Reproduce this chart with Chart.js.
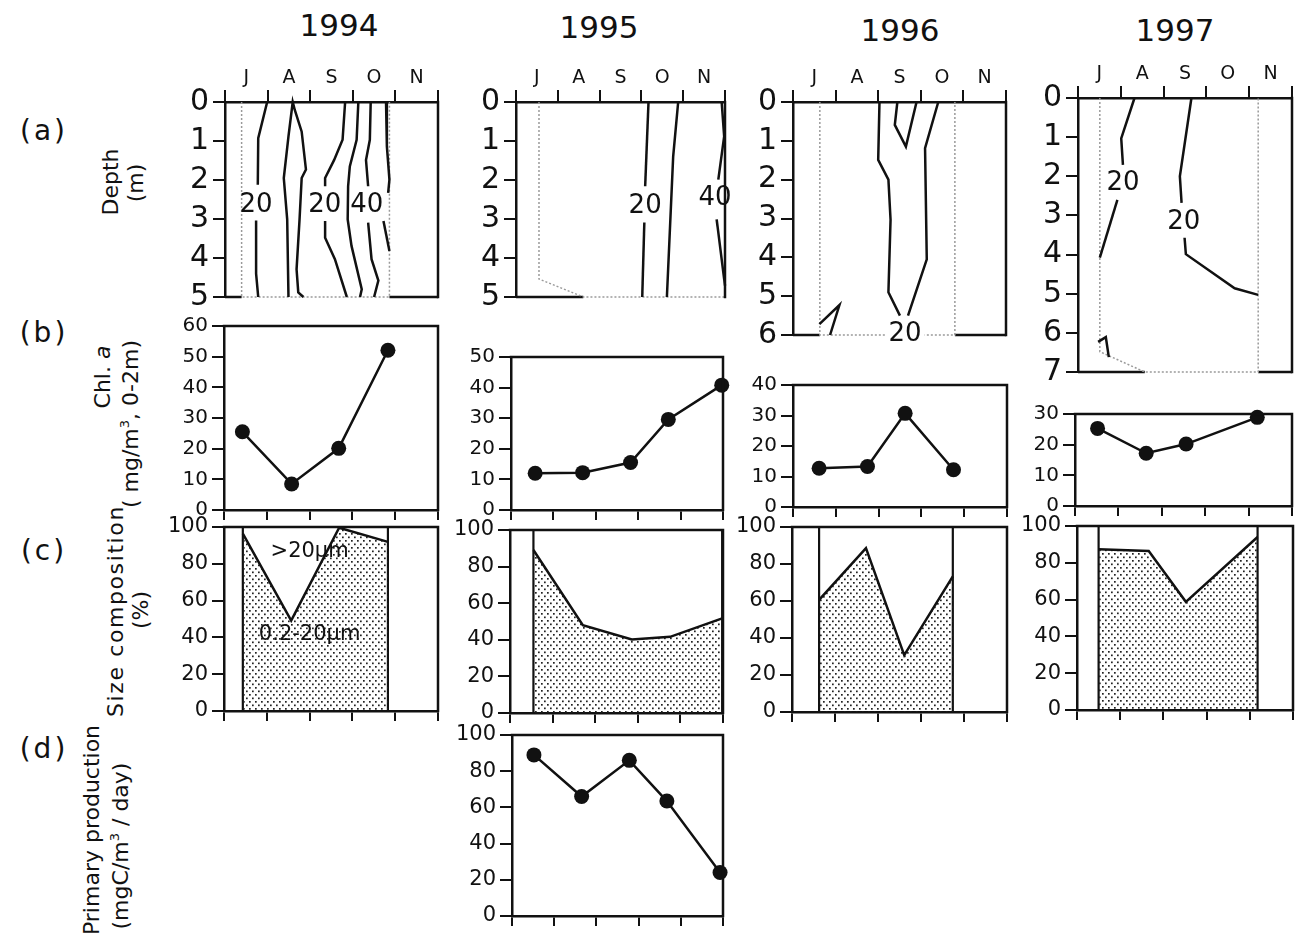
<!DOCTYPE html>
<html><head><meta charset="utf-8">
<script src="https://cdn.jsdelivr.net/npm/chart.js@4.4.1/dist/chart.umd.min.js"></script>
<style>
html,body{margin:0;padding:0;background:#fff;}
body{width:1302px;height:940px;position:relative;overflow:hidden;font-family:"DejaVu Sans",sans-serif;color:#111;}
.t{position:absolute;white-space:nowrap;line-height:1;}
.c{transform:translate(-50%,-50%);}
.r{transform:translate(-50%,-50%) rotate(-90deg);font-size:22px;}
.panel{position:absolute;}
.row{font-size:28px;letter-spacing:3px;}
</style></head><body>
<div class="t c" style="left:339px;top:25px;font-size:31px">1994</div>
<div class="t c" style="left:599px;top:27px;font-size:31px">1995</div>
<div class="t c" style="left:900px;top:30px;font-size:31px">1996</div>
<div class="t c" style="left:1175px;top:30px;font-size:31px">1997</div>
<div class="t c row" style="left:44px;top:131px">(a)</div>
<div class="t c row" style="left:44px;top:333px">(b)</div>
<div class="t c row" style="left:44px;top:551px">(c)</div>
<div class="t c row" style="left:44px;top:749px">(d)</div>
<div class="t r" style="left:111px;top:182px">Depth</div>
<div class="t r" style="left:136px;top:183px">(m)</div>
<div class="t r" style="left:103px;top:377px">Chl. <i>a</i></div>
<div class="t r" style="left:130px;top:424px">( mg/m<sup style="font-size:13px">3</sup>, 0-2m)</div>
<div class="t r" style="left:116px;top:611px;letter-spacing:1.6px">Size composition</div>
<div class="t r" style="left:141px;top:610px">(%)</div>
<div class="t r" style="left:92px;top:830px">Primary production</div>
<div class="t r" style="left:120px;top:846px">(mgC/m<sup style="font-size:13px">3</sup> / day)</div>
<script>
// ---------- data ----------
const months = ['J', 'A', 'S', 'O', 'N'];      // month axis, x = 0..5 (start of July .. end of November)

// (a) isopleths of chlorophyll (month position, depth m)
const iso1994 = [
  [[0.99,0],[0.78,0.93],[0.77,2.12]],
  [[0.73,3.04],[0.73,4.4],[0.78,5]],
  [[1.49,5],[1.46,3.01],[1.38,1.95],[1.49,0.88],[1.59,0],[1.64,0.21],[1.80,0.76],[1.90,1.73],[1.80,1.95],[1.75,3.01],[1.68,4.29],[1.72,4.88],[1.84,5]],
  [[2.82,0],[2.76,0.97],[2.56,1.49],[2.35,1.95],[2.35,2.16]],
  [[2.35,3.05],[2.35,3.48],[2.58,4.03],[2.86,5]],
  [[3.13,0],[3.09,0.97],[2.93,1.65],[2.89,2.16],[2.88,3.01],[2.97,3.69],[3.21,4.8],[3.17,5]],
  [[3.42,0],[3.40,0.97],[3.31,1.49],[3.36,2.16]],
  [[3.36,3.09],[3.44,4.03],[3.60,4.58],[3.50,5]],
  [[3.78,0],[3.80,1.14],[3.86,1.99],[3.83,2.33]],
  [[3.72,3.05],[3.86,3.82]]
];
const iso1995 = [
  [[3.17,0],[3.09,2.16]],
  [[3.07,3.09],[3.02,5]],
  [[3.88,0],[3.76,1.40],[3.61,5]],
  [[4.92,0],[4.98,0.88],[4.84,1.99]],
  [[4.80,3.01],[5.0,4.71]]
];
const iso1996 = [
  [[2.03,0],[2.00,1.49],[2.24,2.0],[2.29,3.03],[2.24,4.9],[2.51,5.5]],
  [[2.45,0],[2.39,0.59],[2.65,1.15],[2.90,0]],
  [[3.41,0],[3.10,1.19],[3.14,4.05],[2.70,5.5]],
  [[0.62,5.72],[1.09,5.23],[0.87,6.0]]
];
const iso1997 = [
  [[1.32,0],[1.01,1.03],[1.05,1.71]],
  [[0.92,2.6],[0.51,4.08]],
  [[2.65,0],[2.38,2.0],[2.42,2.68]],
  [[2.49,3.57],[2.52,3.99],[3.66,4.86],[4.21,5.03]],
  [[0.47,6.23],[0.65,6.11],[0.72,6.62]]
];
// isopleth labels (month, depth, value)
const isoLab1994 = [[0.73,2.65,'20'],[2.34,2.65,'20'],[3.33,2.65,'40']];
const isoLab1995 = [[3.09,2.67,'20'],[4.76,2.48,'40']];
const isoLab1996 = [[2.63,5.97,'20']];
const isoLab1997 = [[1.05,2.19,'20'],[2.47,3.17,'20']];
// sampled region outline (month, depth)
const bound1994 = [[0.39,0],[0.39,5],[3.86,5],[3.86,0]];
const bound1995 = [[0.55,0],[0.55,4.54],[1.61,5],[5,5]];
const bound1996 = [[0.63,0],[0.63,6],[3.80,6],[3.80,0]];
const bound1997 = [[0.51,0],[0.51,6.48],[1.56,7],[4.21,7],[4.21,0]];
const depthMax = [5, 5, 6, 7];

// (b) Chl. a (mg/m3, 0-2 m)
const chl1994 = [[0.43,25.5],[1.58,8.5],[2.68,20.1],[3.83,52.1]];
const chl1995 = [[0.57,12.0],[1.69,12.2],[2.82,15.5],[3.71,29.6],[4.97,40.8]];
const chl1996 = [[0.61,12.7],[1.74,13.3],[2.62,30.7],[3.75,12.2]];
const chl1997 = [[0.52,25.3],[1.64,17.2],[2.56,20.2],[4.20,28.9]];
const chlMax = [60, 50, 40, 30];

// (c) size composition: % of 0.2-20 um fraction
const small1994 = [[0.44,96.4],[1.57,49.1],[2.69,99.6],[3.83,91.9]];
const small1995 = [[0.55,89.1],[1.71,48.0],[2.86,40.2],[3.76,41.6],[4.98,51.7]];
const small1996 = [[0.63,60.6],[1.72,88.6],[2.61,30.7],[3.74,73.3]];
const small1997 = [[0.50,87.3],[1.66,86.4],[2.52,58.8],[4.18,94.0]];

// (d) primary production 1995 (mgC/m3/day)
const pp1995 = [[0.52,89],[1.65,66],[2.78,86],[3.67,63.5],[4.93,24]];

// ---------- drawing ----------
const F = '"DejaVu Sans", sans-serif';
const INK = '#111';
const pts = arr => arr.map(p => ({x: p[0], y: p[1]}));

const framePlugin = {
  id: 'frame',
  afterDatasetsDraw(chart, args, o) {
    const {ctx, chartArea: a} = chart;
    ctx.save(); ctx.strokeStyle = INK; ctx.lineWidth = 2.5; ctx.lineCap = 'square';
    ctx.beginPath();
    if (o.top) { ctx.moveTo(a.left, a.top); ctx.lineTo(a.right, a.top); }
    if (o.right) { ctx.moveTo(a.right, a.top); ctx.lineTo(a.right, a.bottom); }
    ctx.stroke(); ctx.restore();
  }
};
const textPlugin = {
  id: 'txt',
  afterDatasetsDraw(chart, args, o) {
    const {ctx, scales: {x, y}} = chart;
    (o.items || []).forEach(it => {
      ctx.save();
      ctx.font = it.font; ctx.textAlign = 'center'; ctx.textBaseline = 'middle';
      const px = x.getPixelForValue(it.x), py = y.getPixelForValue(it.y);
      if (it.bg) { const w = ctx.measureText(it.text).width; ctx.fillStyle = '#fff'; ctx.fillRect(px - w/2 - 3, py - 10, w + 6, 20); }
      ctx.fillStyle = INK; ctx.fillText(it.text, px, py);
      ctx.restore();
    });
  }
};

function dotPattern() {
  const c = document.createElement('canvas'); c.width = 6; c.height = 7;
  const g = c.getContext('2d'); g.fillStyle = '#222';
  g.fillRect(1, 1, 1.7, 1.7); g.fillRect(4, 4.5, 1.7, 1.7);
  return g.createPattern(c, 'repeat');
}

function panel(rect, o) {
  const L = 90, R = 8;
  const T = o.topAxis ? 44 : 16;
  const B = 18;
  const w = rect.r - rect.l, h = rect.b - rect.t;
  const div = document.createElement('div');
  div.className = 'panel';
  div.style.left = (rect.l - L) + 'px'; div.style.top = (rect.t - T) + 'px';
  div.style.width = (w + L + R) + 'px'; div.style.height = (h + T + B) + 'px';
  const cv = document.createElement('canvas'); div.appendChild(cv); document.body.appendChild(div);
  new Chart(cv, {
    type: 'scatter',
    data: {datasets: o.datasets},
    plugins: [framePlugin, textPlugin],
    options: {
      responsive: true, maintainAspectRatio: false, animation: false, devicePixelRatio: 1, events: [],
      layout: {padding: {left: 0, right: R, top: o.topAxis ? 0 : T, bottom: o.topAxis ? B : 0}},
      plugins: {legend: {display: false}, tooltip: {enabled: false},
        frame: {top: !o.topAxis, right: true}, txt: {items: o.labels || []}},
      scales: {
        x: {type: 'linear', min: 0, max: 5, position: o.topAxis ? 'top' : 'bottom',
          afterBuildTicks: s => { s.ticks = [0,1,2,3,4,5].map(v => ({value: v})); },
          afterFit: s => { s.height = o.topAxis ? T : B; },
          grid: {drawOnChartArea: false, drawTicks: true, tickLength: o.topAxis ? 12 : 10, color: INK, lineWidth: 2},
          border: {display: true, color: INK, width: 2.5},
          ticks: {display: !!o.topAxis, labelOffset: w / 10, padding: 1, maxRotation: 0, autoSkip: false,
            font: {size: 19, family: F}, color: INK, callback: v => months[v] || ''}
        },
        y: {type: 'linear', min: 0, max: o.ymax, reverse: !!o.reverse,
          afterBuildTicks: s => { const t = []; for (let v = 0; v <= o.ymax + 1e-9; v += o.ystep) t.push({value: v}); s.ticks = t; },
          afterFit: s => { s.width = L; },
          grid: {drawOnChartArea: false, drawTicks: true, tickLength: 12, color: INK, lineWidth: 2},
          border: {display: true, color: INK, width: 2.5},
          ticks: {padding: 4, autoSkip: false, font: {size: o.yFont, family: F, lineHeight: 1}, color: INK}
        }
      }
    }
  });
}

const line = (arr, extra) => Object.assign({data: pts(arr), showLine: true, borderColor: INK, borderWidth: 2.5,
  pointRadius: 0, tension: 0, clip: false, fill: false}, extra || {});

function depthPanel(rect, iso, labs, bound, ymax) {
  const ds = iso.map(l => line(l));
  ds.push(line(bound, {borderColor: '#9a9a9a', borderWidth: 1.5, borderDash: [2, 2]}));
  const xs = bound.filter(p => p[1] === ymax).map(p => p[0]);
  const lo = Math.min(...xs), hi = Math.max(...xs);
  if (lo > 0) ds.push(line([[0, ymax], [lo, ymax]]));
  if (hi < 5) ds.push(line([[hi, ymax], [5, ymax]]));
  panel(rect, {topAxis: true, reverse: true, ymax: ymax, ystep: 1, yFont: 30, datasets: ds,
    labels: labs.map(l => ({x: l[0], y: l[1], text: l[2], font: '26px ' + F, bg: l[1] >= ymax - 0.1}))});
}

function chlPanel(rect, data, ymax, step, font) {
  panel(rect, {ymax: ymax, ystep: step || 10, yFont: font || 20, datasets: [
    line(data, {pointRadius: 7.5, pointBackgroundColor: INK, pointBorderWidth: 0})]});
}

function sizePanel(rect, data, labels) {
  const first = data[0][0], last = data[data.length - 1][0];
  panel(rect, {ymax: 100, ystep: 20, yFont: 21, labels: labels || [], datasets: [
    line(data, {fill: 'origin', backgroundColor: dotPattern()}),
    line([[first, 0], [first, 100]], {borderWidth: 2.2}),
    line([[last, 0], [last, 100]], {borderWidth: 2.2})
  ]});
}

depthPanel({l:225,t:102,r:438,b:298}, iso1994, isoLab1994, bound1994, depthMax[0]);
depthPanel({l:516,t:102,r:725,b:298}, iso1995, isoLab1995, bound1995, depthMax[1]);
depthPanel({l:793,t:102,r:1006,b:336}, iso1996, isoLab1996, bound1996, depthMax[2]);
depthPanel({l:1078,t:98,r:1292,b:373}, iso1997, isoLab1997, bound1997, depthMax[3]);

chlPanel({l:224,t:326,r:438,b:510}, chl1994, chlMax[0]);
chlPanel({l:511,t:357,r:723,b:510}, chl1995, chlMax[1]);
chlPanel({l:793,t:385,r:1007,b:507}, chl1996, chlMax[2]);
chlPanel({l:1075,t:414,r:1292,b:506}, chl1997, chlMax[3]);

sizePanel({l:224,t:527,r:438,b:711}, small1994, [
  {x: 2.0, y: 86.5, text: '>20\u03bcm', font: '21px ' + F},
  {x: 2.0, y: 41.5, text: '0.2-20\u03bcm', font: '21px ' + F}]);
sizePanel({l:510,t:530,r:723,b:713}, small1995);
sizePanel({l:792,t:527,r:1007,b:712}, small1996);
sizePanel({l:1077,t:526,r:1293,b:710}, small1997);

chlPanel({l:512,t:735,r:723,b:916}, pp1995, 100, 20, 21);
</script>
</body></html>
